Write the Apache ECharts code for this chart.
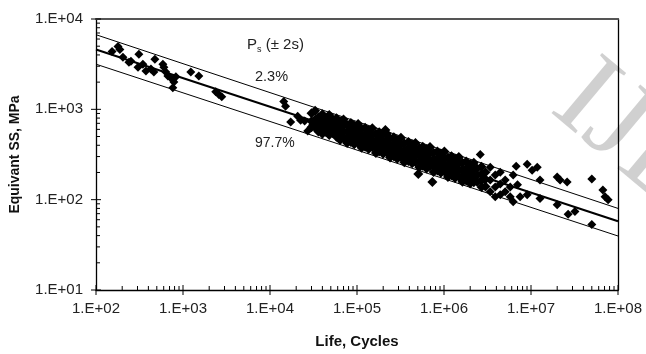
<!DOCTYPE html>
<html>
<head>
<meta charset="utf-8">
<script src="https://cdn.jsdelivr.net/npm/echarts@6/dist/echarts.min.js"></script>
<style>
html,body{margin:0;padding:0;background:#fff;}
#chart{width:646px;height:354px;}
</style>
</head>
<body>
<div id="chart"></div>
<script>
// Axis ranges and ticks
const xDecades = [1e2, 1e3, 1e4, 1e5, 1e6, 1e7, 1e8];
const yDecades = [1e1, 1e2, 1e3, 1e4];
const minorMultipliers = [2, 3, 4, 5, 6, 7, 8, 9];

// Fit lines (endpoints at N = 1e2 and 1e8)
const meanLine = [[1e2, 4600], [1e8, 57.7]];
const upperLine = [[1e2, 6700], [1e8, 80]];   // 2.3%
const lowerLine = [[1e2, 3160], [1e8, 39.6]]; // 97.7%

// Test data: [life cycles, equivalent SS MPa]
const lowCycleData = [
  [153,4370],[179,4960],[188,4600],[204,3770],[239,3330],[252,3410],[304,2930],[311,4060],
  [346,3160],[375,2650],[428,2790],[463,2590],[475,3580],[587,3160],[603,2930],[635,2590],
  [670,2340],[745,2170],[785,2010],[828,2290],[764,1730],[1230,2590],[1520,2340],[2380,1570],
  [2790,1380],[2580,1460],
  [1.44e4,1220],[1.51e4,1080],[1.73e4,723],[2.08e4,840],[2.25e4,759],[2.5e4,741],[2.71e4,577],
  [3.09e4,670],[3.52e4,741],[3.81e4,798],[4.02e4,621]
];
const midCycleData = [
  [3.0e4,905],[3.0e4,739],[3.0e4,633],
  [3.3e4,966],[3.3e4,769],[3.3e4,630],
  [3.6e4,819],[3.6e4,676],[3.6e4,570],
  [4.0e4,882],[4.0e4,730],[4.0e4,606],[4.0e4,537],
  [4.4e4,802],[4.4e4,661],[4.4e4,561],
  [4.8e4,865],[4.8e4,715],[4.8e4,605],[4.8e4,520],
  [5.3e4,769],[5.3e4,643],[5.3e4,542],
  [5.8e4,796],[5.8e4,673],[5.8e4,575],[5.8e4,496],
  [6.4e4,735],[6.4e4,617],[6.4e4,522],[6.4e4,457],
  [7.0e4,773],[7.0e4,664],[7.0e4,560],[7.0e4,479],
  [7.7e4,671],[7.7e4,570],[7.7e4,486],[7.7e4,425],
  [8.5e4,705],[8.5e4,596],[8.5e4,504],[8.5e4,434],
  [9.3e4,659],[9.3e4,553],[9.3e4,474],[9.3e4,411],
  [1.03e5,689],[1.03e5,581],[1.03e5,495],[1.03e5,423],
  [1.13e5,604],[1.13e5,510],[1.13e5,436],[1.13e5,376],
  [1.24e5,625],[1.24e5,529],[1.24e5,452],[1.24e5,385],
  [1.36e5,588],[1.36e5,495],[1.36e5,420],[1.36e5,364],
  [1.5e5,616],[1.5e5,521],[1.5e5,444],[1.5e5,381],
  [1.65e5,536],[1.65e5,452],[1.65e5,386],[1.65e5,329],
  [1.8e5,556],[1.8e5,471],[1.8e5,402],[1.8e5,342],
  [2.0e5,525],[2.0e5,442],[2.0e5,376],[2.0e5,322],
  [2.2e5,537],[2.2e5,457],[2.2e5,389],[2.2e5,333],
  [2.4e5,476],[2.4e5,402],[2.4e5,343],[2.4e5,293],
  [2.65e5,491],[2.65e5,416],[2.65e5,355],[2.65e5,302],
  [2.9e5,459],[2.9e5,389],[2.9e5,330],[2.9e5,283],
  [3.2e5,484],[3.2e5,409],[3.2e5,349],[3.2e5,299],
  [3.5e5,419],[3.5e5,353],[3.5e5,301],[3.5e5,260],
  [3.9e5,436],[3.9e5,369],[3.9e5,315],[3.9e5,268],
  [4.3e5,408],[4.3e5,347],[4.3e5,295],[4.3e5,253],
  [4.7e5,425],[4.7e5,359],[4.7e5,306],[4.7e5,261],
  [5.2e5,372],[5.2e5,314],[5.2e5,268],[5.2e5,229],
  [5.7e5,386],[5.7e5,327],[5.7e5,279],[5.7e5,238],
  [6.3e5,359],[6.3e5,304],[6.3e5,258],[6.3e5,221],
  [6.9e5,382],[6.9e5,324],[6.9e5,273],[6.9e5,234],
  [7.6e5,331],[7.6e5,279],[7.6e5,238],[7.6e5,203],
  [8.4e5,341],[8.4e5,288],[8.4e5,246],[8.4e5,210],
  [9.2e5,324],[9.2e5,273],[9.2e5,232],[9.2e5,199],
  [1.01e6,341],[1.01e6,284],[1.01e6,242],[1.01e6,205],
  [1.11e6,293],[1.11e6,247],[1.11e6,211],[1.11e6,178],
  [1.22e6,303],[1.22e6,256],[1.22e6,219],[1.22e6,186],
  [1.34e6,283],[1.34e6,237],[1.34e6,201],[1.34e6,174],
  [1.48e6,296],[1.48e6,250],[1.48e6,212],[1.48e6,180],
  [1.63e6,256],[1.63e6,215],[1.63e6,183],[1.63e6,158],
  [1.8e6,264],[1.8e6,222],[1.8e6,190],[1.8e6,163],
  [2.0e6,247],[2.0e6,207],[2.0e6,175],[2.0e6,151],
  [2.2e6,257],[2.2e6,216],[2.2e6,183],[2.2e6,156],
  [2.4e6,222],[2.4e6,186],[2.4e6,158],
  [2.7e6,232],[2.7e6,192],[2.7e6,163],[2.7e6,138],
  [3.0e6,201],[3.0e6,168],[3.0e6,140],
  [2.12e5,592],[5.07e5,192],[7.35e5,157]
];
const highCycleData = [
  [2.61e6,316],[3.4e6,228],[3.4e6,165],[3.4e6,122],[3.88e6,187],[3.88e6,138],[3.88e6,108],
  [4.43e6,201],[4.43e6,149],[4.43e6,113],[5.05e6,165],[5.05e6,122],[5.77e6,138],[5.77e6,108],
  [6.24e6,187],[6.24e6,95],[7.0e6,146],[6.76e6,234],[9.04e6,246],[1.03e7,212],[1.18e7,228],
  [1.27e7,165],[2.0e7,178],[2.16e7,165],[2.6e7,157],[5.0e7,169],[6.7e7,128],[7.1e7,108],
  [7.7e7,100],[1.27e7,103],[2.0e7,88],[2.67e7,69],[3.2e7,74],[5.0e7,53],[7.5e6,108],[9.04e6,113]
];

const xTitle = 'Life, Cycles';
const yTitle = 'Equivant SS, MPa';

function expLabel(v) {
  const e = Math.round(Math.log10(v));
  return '1.E+' + (e < 10 ? '0' : '') + e;
}

// Tick lists built from decades and minor multipliers
const xTicks = [];
xDecades.forEach((d, i) => {
  xTicks.push([d, yDecades[0], 1]);
  if (i < xDecades.length - 1) minorMultipliers.forEach(m => xTicks.push([d * m, yDecades[0], 0]));
});
const yTicks = [];
yDecades.forEach((d, i) => {
  yTicks.push([xDecades[0], d, 1]);
  if (i < yDecades.length - 1) minorMultipliers.forEach(m => yTicks.push([xDecades[0], d * m, 0]));
});

const chart = echarts.init(document.getElementById('chart'));
const FF = 'Liberation Sans, Arial, sans-serif';
const labelFont = { fontFamily: FF, fontSize: 15, color: '#222' };
const markerStyle = { color: '#000', opacity: 1 };

chart.setOption({
  animation: false,
  grid: { left: 95, right: 28, top: 19, bottom: 59 },
  xAxis: [{
    type: 'log', logBase: 10, min: xDecades[0], max: xDecades[xDecades.length - 1],
    axisLine: { lineStyle: { color: '#000', width: 1.3 } },
    axisTick: { show: false },
    splitLine: { show: false },
    axisLabel: Object.assign({ margin: 11, formatter: expLabel }, labelFont),
    name: xTitle, nameLocation: 'middle', nameGap: 44,
    nameTextStyle: { fontFamily: FF, fontSize: 15, fontWeight: 'bold', color: '#111' }
  }, {
    type: 'log', logBase: 10, min: xDecades[0], max: xDecades[xDecades.length - 1], position: 'top',
    axisLine: { lineStyle: { color: '#555', width: 2 } },
    axisTick: { show: false }, axisLabel: { show: false }, splitLine: { show: false }
  }],
  yAxis: [{
    type: 'log', logBase: 10, min: yDecades[0], max: yDecades[yDecades.length - 1],
    axisLine: { lineStyle: { color: '#000', width: 1.3 } },
    axisTick: { show: false },
    splitLine: { show: false },
    axisLabel: Object.assign({ margin: 13, formatter: expLabel }, labelFont),
    name: yTitle, nameLocation: 'middle', nameGap: 74,
    nameTextStyle: { fontFamily: FF, fontSize: 14, fontWeight: 'bold', color: '#111' }
  }, {
    type: 'log', logBase: 10, min: yDecades[0], max: yDecades[yDecades.length - 1], position: 'right',
    axisLine: { lineStyle: { color: '#000', width: 1.3 } },
    axisTick: { show: false }, axisLabel: { show: false }, splitLine: { show: false }
  }],
  graphic: [{
    type: 'text', x: 530, y: 132, rotation: -40 * Math.PI / 180, z: -10, silent: true,
    style: { text: 'IJE', font: '120px "Liberation Serif", serif', fill: 'rgba(200,200,200,0.85)', verticalAlign: 'bottom', align: 'left' }
  }, {
    type: 'text', x: 247, y: 45, z: 10,
    style: {
      text: '{a|P}{b|s}{a| (± 2s)}',
      verticalAlign: 'middle',
      rich: {
        a: { fontFamily: FF, fontSize: 15, fill: '#222' },
        b: { fontFamily: FF, fontSize: 9, fill: '#222', padding: [9, 0, 0, 0] }
      }
    }
  }, {
    type: 'text', x: 255, y: 77, z: 10,
    style: { text: '2.3%', fontFamily: FF, fontSize: 14.5, fill: '#222', verticalAlign: 'middle' }
  }, {
    type: 'text', x: 255, y: 143, z: 10,
    style: { text: '97.7%', fontFamily: FF, fontSize: 14, fill: '#222', verticalAlign: 'middle' }
  }],
  series: [
    { type: 'scatter', data: lowCycleData, symbol: 'diamond', symbolSize: 9, itemStyle: markerStyle, z: 2 },
    { type: 'scatter', data: midCycleData, symbol: 'diamond', symbolSize: 10, itemStyle: markerStyle, z: 2 },
    { type: 'scatter', data: highCycleData, symbol: 'diamond', symbolSize: 9, itemStyle: markerStyle, z: 2 },
    { type: 'line', data: upperLine, symbol: 'none', lineStyle: { color: '#000', width: 1 }, z: 3 },
    { type: 'line', data: meanLine, symbol: 'none', lineStyle: { color: '#000', width: 2 }, z: 3 },
    { type: 'line', data: lowerLine, symbol: 'none', lineStyle: { color: '#000', width: 1 }, z: 3 },
    {
      type: 'custom', data: xTicks, clip: false, z: 4, silent: true,
      renderItem: function (params, api) {
        const p = api.coord([api.value(0), api.value(1)]);
        const major = api.value(2) === 1;
        return { type: 'line', shape: { x1: p[0], y1: p[1] + (major ? 5 : 0), x2: p[0], y2: p[1] - (major ? 5 : 4) },
                 style: { stroke: '#000', lineWidth: 1 } };
      }
    },
    {
      type: 'custom', data: yTicks, clip: false, z: 4, silent: true,
      renderItem: function (params, api) {
        const p = api.coord([api.value(0), api.value(1)]);
        const major = api.value(2) === 1;
        return { type: 'line', shape: { x1: p[0] - (major ? 5 : 0), y1: p[1], x2: p[0] + (major ? 5 : 4), y2: p[1] },
                 style: { stroke: '#000', lineWidth: 1 } };
      }
    }
  ]
});
</script>
</body>
</html>
